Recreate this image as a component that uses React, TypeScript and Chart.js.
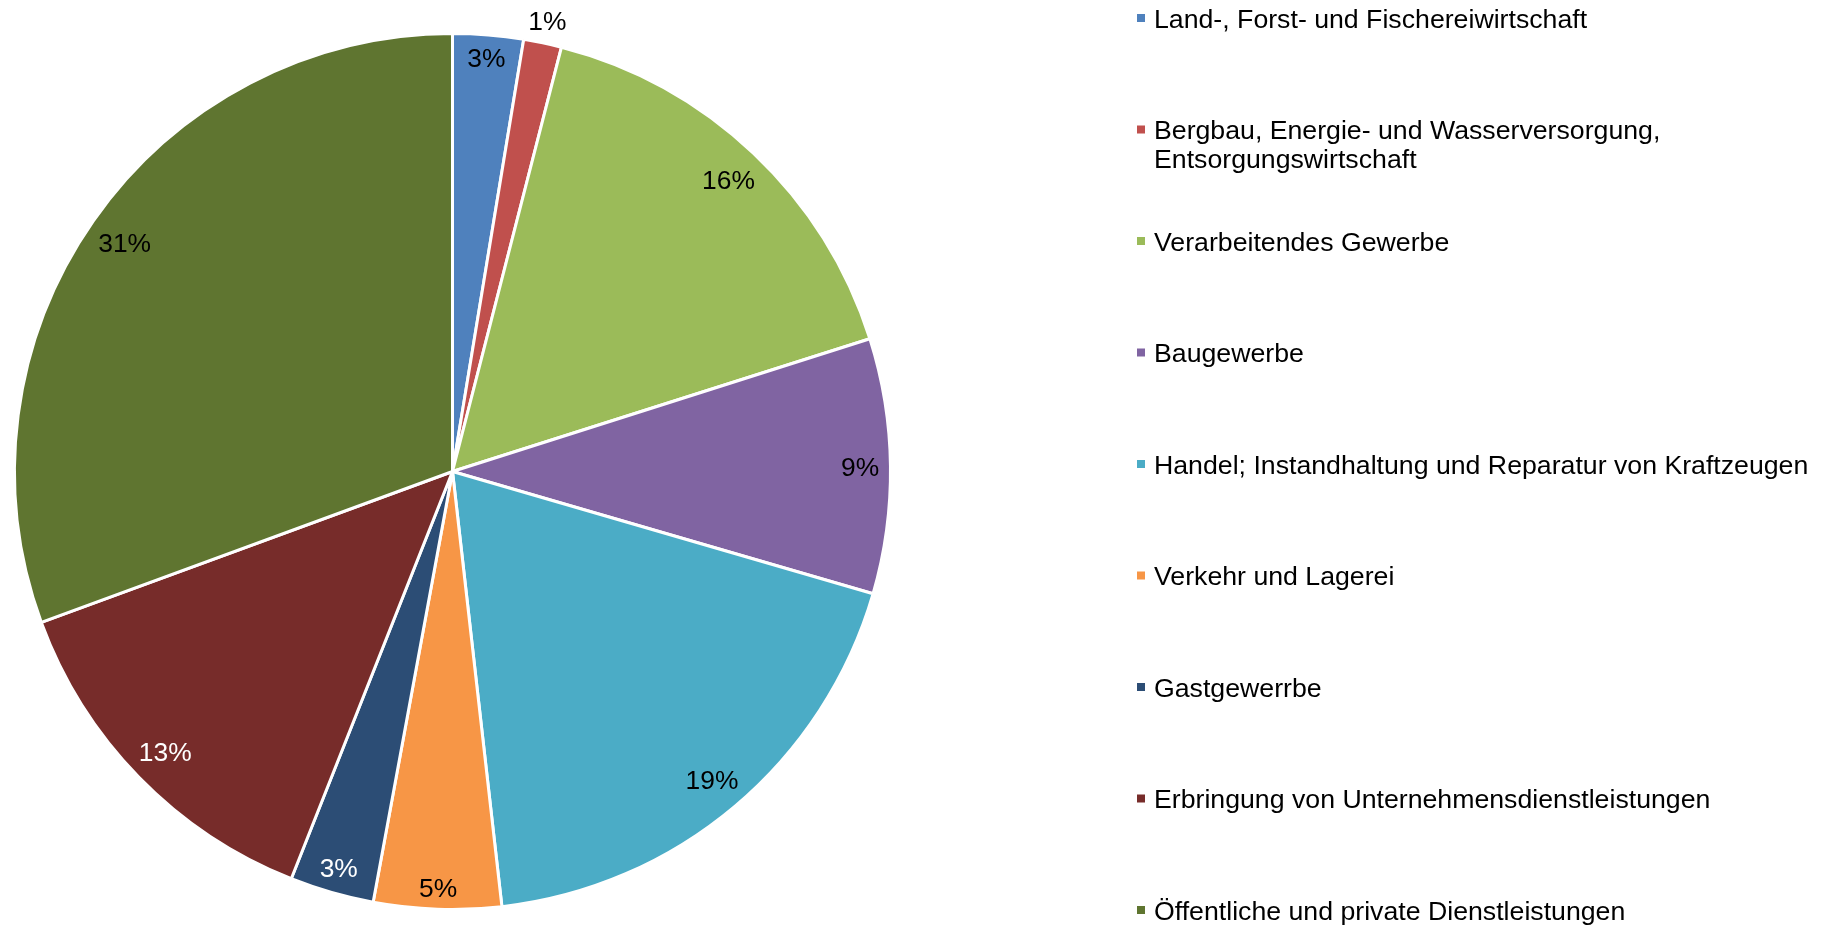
import React, { useEffect, useRef } from "react";
import { Chart, registerables } from "chart.js";

Chart.register(...registerables);

const categories: string[] = [
  "Land-, Forst- und Fischereiwirtschaft",
  "Bergbau, Energie- und Wasserversorgung, Entsorgungswirtschaft",
  "Verarbeitendes Gewerbe",
  "Baugewerbe",
  "Handel; Instandhaltung und Reparatur von Kraftzeugen",
  "Verkehr und Lagerei",
  "Gastgewerrbe",
  "Erbringung von Unternehmensdienstleistungen",
  "Öffentliche und private Dienstleistungen",
];

const shares: number[] = [2.6, 1.4, 16.1, 9.4, 18.7, 4.7, 3.1, 13.4, 30.6];

const sliceColors: string[] = [
  "#4F81BD",
  "#C0504D",
  "#9BBB59",
  "#8064A2",
  "#4BACC6",
  "#F79646",
  "#2C4D75",
  "#772C2A",
  "#5F7530",
];

const FONT = '"Liberation Sans", Arial, Helvetica, sans-serif';
const LABEL_SIZE = 26.4;
const LEGEND_SIZE = 26.7;

function luminance(hex: string): number {
  const n = parseInt(hex.slice(1), 16);
  const r = (n >> 16) & 255, g = (n >> 8) & 255, b = n & 255;
  return 0.299 * r + 0.587 * g + 0.114 * b;
}

const pieLabelPlugin = {
  id: "pieLabels",
  afterDatasetsDraw(chart: any) {
    const ctx = chart.ctx as CanvasRenderingContext2D;
    const meta = chart.getDatasetMeta(0);
    const total = shares.reduce((s, v) => s + v, 0);
    ctx.save();
    ctx.font = `${LABEL_SIZE}px ${FONT}`;
    ctx.textAlign = "center";
    ctx.textBaseline = "alphabetic";
    meta.data.forEach((arc: any, i: number) => {
      const p = arc.getProps(["x", "y", "startAngle", "endAngle", "outerRadius"], true);
      const R = p.outerRadius;
      const a = (p.startAngle + p.endAngle) / 2;
      const txt = Math.round((shares[i] / total) * 100) + "%";
      const w = ctx.measureText(txt).width;
      const h = LABEL_SIZE * 0.72;
      const ux = Math.cos(a), uy = Math.sin(a);
      const far = (d: number) => {
        let m = 0;
        for (const sx of [-1, 1])
          for (const sy of [-1, 1])
            m = Math.max(m, Math.hypot(d * ux + (sx * w) / 2, d * uy + (sy * h) / 2));
        return m;
      };
      const near = (d: number) => {
        const bx = d * ux, by = d * uy;
        const qx = Math.max(bx - w / 2, Math.min(0, bx + w / 2));
        const qy = Math.max(by - h / 2, Math.min(0, by + h / 2));
        return Math.hypot(qx, qy);
      };
      let lo = 0, hi = R;
      for (let k = 0; k < 40; k++) {
        const mid = (lo + hi) / 2;
        if (far(mid) <= R - 11) lo = mid; else hi = mid;
      }
      let d = lo;
      const arcLen = (p.endAngle - p.startAngle) * (d - h / 2);
      let outside = false;
      if (arcLen < w + 6) {
        outside = true;
        lo = R * 0.5; hi = R * 1.5;
        for (let k = 0; k < 40; k++) {
          const mid = (lo + hi) / 2;
          if (near(mid) >= R + 10) hi = mid; else lo = mid;
        }
        d = hi;
      }
      const lx = p.x + d * ux;
      const ly = p.y + d * uy;
      ctx.fillStyle = outside ? "#000000" : luminance(sliceColors[i]) < 90 ? "#FFFFFF" : "#000000";
      ctx.fillText(txt, lx, ly + h / 2);
    });
    ctx.restore();
  },
};

const legendPlugin = {
  id: "sideLegend",
  afterDraw(chart: any) {
    const ctx = chart.ctx as CanvasRenderingContext2D;
    ctx.save();
    ctx.font = `${LEGEND_SIZE}px ${FONT}`;
    ctx.textAlign = "left";
    ctx.textBaseline = "alphabetic";
    const textX = 1154;
    const maxW = 668;
    const firstBaseline = 27.5;
    const rowStep = 111.5;
    const lineH = 29;
    categories.forEach((label, i) => {
      const words = label.split(" ");
      const lines: string[] = [];
      let cur = "";
      for (const wd of words) {
        const test = cur ? cur + " " + wd : wd;
        if (ctx.measureText(test).width > maxW && cur) {
          lines.push(cur);
          cur = wd;
        } else cur = test;
      }
      if (cur) lines.push(cur);
      const base = firstBaseline + i * rowStep;
      ctx.fillStyle = sliceColors[i];
      ctx.fillRect(1137, base - 13.5, 8, 8);
      ctx.fillStyle = "#000000";
      lines.forEach((ln, j) => ctx.fillText(ln, textX, base + j * lineH));
    });
    ctx.restore();
  },
};

export default function App() {
  const ref = useRef<HTMLCanvasElement | null>(null);
  useEffect(() => {
    if (!ref.current) return;
    const chart = new Chart(ref.current, {
      type: "pie",
      data: {
        labels: categories,
        datasets: [
          {
            data: shares,
            backgroundColor: sliceColors,
            borderColor: "#FFFFFF",
            borderWidth: 3,
          },
        ],
      },
      options: {
        responsive: false,
        devicePixelRatio: 1,
        animation: false,
        layout: { padding: { left: 13, top: 32, right: 940, bottom: 17 } },
        plugins: {
          legend: { display: false },
          tooltip: { enabled: false },
          title: { display: false },
        },
      },
      plugins: [pieLabelPlugin, legendPlugin],
    });
    return () => chart.destroy();
  }, []);
  return (
    <div style={{ position: "absolute", left: 0, top: 0, width: 1832, height: 928, background: "#FFFFFF" }}>
      <canvas ref={ref} width={1832} height={928} style={{ display: "block" }} />
    </div>
  );
}
